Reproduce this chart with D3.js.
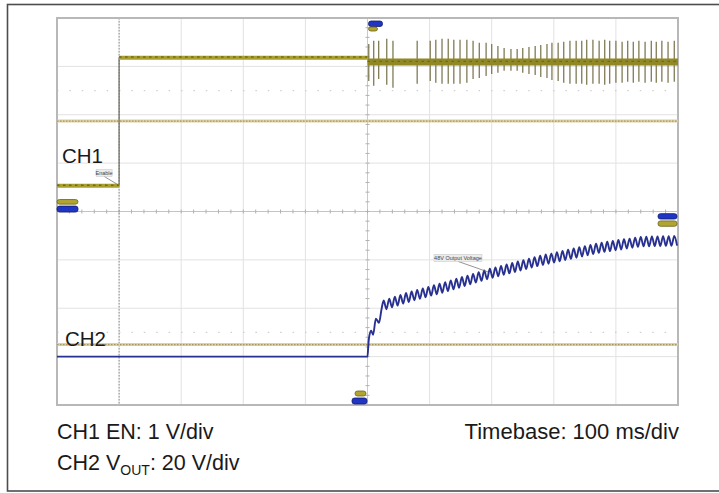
<!DOCTYPE html>
<html>
<head>
<meta charset="utf-8">
<script src="https://cdn.jsdelivr.net/npm/d3@7"></script>
<style>
  body { margin: 0; background: #fff; }
  svg { display: block; font-family: "Liberation Sans", Arial, Helvetica, sans-serif; }
</style>
</head>
<body>
<script>
// screen: 10 x 8 divisions, timebase 100 ms/div
let timeDomain = [0, 1000],
  divDomain = [-4, 4];

// CH1 EN, 1 V/div, ground marker at +0.2 div
let ch1Ground = 0.2,
  ch1VoltsPerDiv = 1,
  ch1SegStart = [0, 100, 500],
  ch1SegEnd = [100, 500, 1000],
  ch1SegLevel = [0.33, 2.98, 2.89],
  ch1Ref = 1.67;

// switching glitches on EN after the trigger
let ch1SpikeTime = [502, 510, 518, 531, 541, 580, 601, 610, 620, 630, 639, 649, 660, 670, 680, 691,
  700, 710, 720, 731, 741, 750, 760, 770, 779, 789, 797, 807, 816, 826, 836, 845, 853, 863, 873,
  882, 890, 900, 910, 919, 928, 937, 947, 957, 965, 974, 984, 994];
let ch1SpikeHi = [3.26, 3.33, 3.33, 3.37, 3.33, 3.33, 3.33, 3.35, 3.37, 3.37, 3.35, 3.35, 3.35, 3.33,
  3.29, 3.29, 3.26, 3.22, 3.18, 3.16, 3.16, 3.18, 3.20, 3.22, 3.24, 3.26, 3.29, 3.29, 3.31, 3.33,
  3.33, 3.33, 3.35, 3.35, 3.33, 3.35, 3.33, 3.33, 3.31, 3.33, 3.31, 3.33, 3.31, 3.33, 3.31, 3.33,
  3.31, 3.33];
let ch1SpikeLo = [2.50, 2.40, 2.54, 2.42, 2.36, 2.44, 2.50, 2.46, 2.44, 2.44, 2.44, 2.44, 2.46, 2.54,
  2.56, 2.60, 2.64, 2.67, 2.71, 2.71, 2.71, 2.67, 2.64, 2.62, 2.58, 2.56, 2.52, 2.50, 2.46, 2.44,
  2.44, 2.44, 2.42, 2.44, 2.44, 2.42, 2.44, 2.46, 2.46, 2.48, 2.46, 2.48, 2.46, 2.48, 2.46, 2.48,
  2.46, 2.48];

// CH2 VOUT, 20 V/div, ground at -3 div
let ch2Ground = -3,
  ch2VoltsPerDiv = 20,
  ch2Ref = 5;
let ch2HeadTime = [0, 500, 501.5, 503, 506, 509, 513.5, 518.5, 522.5];
let ch2HeadVolt = [0, 0, 5.5, 8.7, 10.7, 9.0, 15.7, 14.0, 19.5];
// ripple peaks / troughs, one every 4.5 ms from 526 ms
let ch2RippleStart = 526,
  ch2RippleStep = 4.5;
let ch2RippleVolt = [23.2, 19.6, 24.0, 20.4, 24.8, 21.1, 25.5, 21.9, 26.3, 22.6,
  26.9, 23.3, 27.6, 23.9, 28.2, 24.5, 28.8, 25.2, 29.5, 25.8,
  30.1, 26.4, 30.8, 27.1, 31.5, 27.8, 32.2, 28.5, 32.9, 29.2,
  33.5, 29.9, 34.2, 30.6, 34.9, 31.3, 35.6, 32.0, 36.3, 32.6,
  36.9, 33.2, 37.5, 33.8, 38.1, 34.4, 38.7, 35.0, 39.3, 35.6,
  39.9, 36.2, 40.5, 36.8, 41.1, 37.4, 41.7, 37.9, 42.2, 38.4,
  42.7, 38.9, 43.2, 39.4, 43.7, 39.9, 44.2, 40.4, 44.7, 40.9,
  45.2, 41.4, 45.7, 41.9, 46.2, 42.4, 46.7, 42.9, 47.1, 43.3,
  47.5, 43.6, 47.8, 44.0, 48.2, 44.3, 48.5, 44.7, 48.8, 45.0,
  49.2, 45.4, 49.5, 45.6, 49.6, 45.6, 49.7, 45.7, 49.7, 45.7,
  49.8, 45.8, 49.8, 45.8, 49.9, 45.9];

let width = 719,
  height = 493,
  plot = { left: 57, right: 678, top: 18, bottom: 405 };

let x = d3.scaleLinear().domain(timeDomain).range([plot.left, plot.right]);
let y = d3.scaleLinear().domain(divDomain).range([plot.bottom, plot.top]);
let ch1Y = (v) => y(ch1Ground + v / ch1VoltsPerDiv);
let ch2Y = (v) => y(ch2Ground + v / ch2VoltsPerDiv);

let svg = d3.select("body").append("svg")
  .attr("width", width)
  .attr("height", height);

// outer frame (right side runs off the page)
svg.append("rect")
  .attr("x", 7.5).attr("y", 4.5)
  .attr("width", 730).attr("height", 486.5)
  .attr("fill", "none")
  .attr("stroke", "#4d4d4d")
  .attr("stroke-width", 1.6);

// grid
let grid = svg.append("g");
grid.selectAll(".vg")
  .data(d3.range(100, 1000, 100))
  .enter().append("line")
  .attr("x1", (d) => x(d)).attr("x2", (d) => x(d))
  .attr("y1", plot.top).attr("y2", plot.bottom)
  .attr("stroke", (d) => (d == 500 ? "#c9c9c9" : "#e2e2e2"))
  .attr("stroke-width", 1);
grid.selectAll(".hg")
  .data(d3.range(-3, 4, 1))
  .enter().append("line")
  .attr("x1", plot.left).attr("x2", plot.right)
  .attr("y1", (d) => y(d)).attr("y2", (d) => y(d))
  .attr("stroke", (d) => (d == 0 ? "#c4c4c4" : "#e2e2e2"))
  .attr("stroke-width", 1);

// minor ticks on the centre lines
grid.selectAll(".tx")
  .data(d3.range(0, 1000.1, 20))
  .enter().append("line")
  .attr("x1", (d) => x(d)).attr("x2", (d) => x(d))
  .attr("y1", y(0) - 2).attr("y2", y(0) + 2)
  .attr("stroke", "#b0b0b0");
grid.selectAll(".ty")
  .data(d3.range(-4, 4.01, 0.2))
  .enter().append("line")
  .attr("x1", x(500) - 2).attr("x2", x(500) + 2)
  .attr("y1", (d) => y(d)).attr("y2", (d) => y(d))
  .attr("stroke", "#b0b0b0");

// faint dotted rows at +/-2.5 div
grid.selectAll(".dr")
  .data([2.5, -2.5])
  .enter().append("line")
  .attr("x1", plot.left).attr("x2", plot.right)
  .attr("y1", (d) => y(d)).attr("y2", (d) => y(d))
  .attr("stroke", "#cfcfcf")
  .attr("stroke-width", 1.2)
  .attr("stroke-dasharray", "1.5,10.9");

// time cursor at the enable edge
grid.append("line")
  .attr("x1", x(100)).attr("x2", x(100))
  .attr("y1", plot.top).attr("y2", plot.bottom)
  .attr("stroke", "#8c8c8c")
  .attr("stroke-dasharray", "1.5,1.5");

// plot border
svg.append("rect")
  .attr("x", plot.left).attr("y", plot.top)
  .attr("width", plot.right - plot.left).attr("height", plot.bottom - plot.top)
  .attr("fill", "none")
  .attr("stroke", "#b8b8b8")
  .attr("stroke-width", 2);

// reference levels (tan dotted)
let refs = [ch1Y(ch1Ref), ch2Y(ch2Ref)];
svg.selectAll(".ref")
  .data(refs)
  .enter().append("line")
  .attr("x1", plot.left).attr("x2", plot.right)
  .attr("y1", (d) => d).attr("y2", (d) => d)
  .attr("stroke", "#dcd0a4")
  .attr("stroke-width", 3);
svg.selectAll(".ref2")
  .data(refs)
  .enter().append("line")
  .attr("x1", plot.left).attr("x2", plot.right)
  .attr("y1", (d) => d).attr("y2", (d) => d)
  .attr("stroke", "#a8955c")
  .attr("stroke-width", 1.2)
  .attr("stroke-dasharray", "1.5,1.5");

// CH2 trace
let ch2Points = ch2HeadTime.map((t, i) => [t, ch2HeadVolt[i]])
  .concat(ch2RippleVolt.map((v, i) => [ch2RippleStart + i * ch2RippleStep, v]));

let ch2Line = d3.line()
  .x((d) => x(d[0]))
  .y((d) => ch2Y(d[1]))
  .curve(d3.curveMonotoneX);

svg.append("path")
  .datum(ch2Points)
  .attr("d", ch2Line)
  .attr("fill", "none")
  .attr("stroke", "#28318f")
  .attr("stroke-width", 1.9)
  .attr("stroke-linejoin", "round");

// CH1 trace: thin edge, thick level bands, glitches
svg.append("line")
  .attr("x1", x(100)).attr("x2", x(100))
  .attr("y1", ch1Y(ch1SegLevel[0])).attr("y2", ch1Y(ch1SegLevel[1]))
  .attr("stroke", "#6e6e64")
  .attr("stroke-width", 1.2);

svg.selectAll(".spike")
  .data(ch1SpikeTime)
  .enter().append("line")
  .attr("x1", (d) => x(d)).attr("x2", (d) => x(d))
  .attr("y1", (d, i) => ch1Y(ch1SpikeHi[i]))
  .attr("y2", (d, i) => ch1Y(ch1SpikeLo[i]))
  .attr("stroke", "#7f7b55")
  .attr("stroke-width", 1.3);

let segs = ch1SegStart.map((s, i) => ({ s: s, e: ch1SegEnd[i], v: ch1SegLevel[i], w: s >= 500 ? 7 : 4 }));

svg.selectAll(".band")
  .data(segs)
  .enter().append("line")
  .attr("x1", (d) => x(d.s)).attr("x2", (d) => x(d.e))
  .attr("y1", (d) => ch1Y(d.v)).attr("y2", (d) => ch1Y(d.v))
  .attr("stroke", (d) => (d.s >= 500 ? "#8f8824" : "#a89f30"))
  .attr("stroke-width", (d) => d.w);
svg.selectAll(".band2")
  .data(segs)
  .enter().append("line")
  .attr("x1", (d) => x(d.s)).attr("x2", (d) => x(d.e))
  .attr("y1", (d) => ch1Y(d.v) - 0.6).attr("y2", (d) => ch1Y(d.v) - 0.6)
  .attr("stroke", "#6f6a1a")
  .attr("stroke-width", 1.4)
  .attr("stroke-dasharray", "2.5,3.5");

// channel / trigger markers
function marker(mx, my, w, h, kind) {
  svg.append("rect")
    .attr("x", mx).attr("y", my)
    .attr("width", w).attr("height", h)
    .attr("rx", 2.5).attr("ry", 2.5)
    .attr("fill", kind == "b" ? "#1f36c4" : "#b1a532")
    .attr("stroke", kind == "b" ? "#111c6c" : "#6a6318")
    .attr("stroke-width", 0.8);
}
marker(x(0), y(0.2) - 2.3, 21, 4.6, "y");
marker(x(0), y(0.05) - 3, 21, 6, "b");
marker(x(500) + 1, y(4) + 3, 14, 5.5, "b");
marker(x(500) + 1, y(4) + 9, 9, 4, "y");
marker(x(500) - 12.5, y(-4) - 14, 11, 5, "y");
marker(x(500) - 15.5, y(-4) - 7, 15, 6, "b");
marker(x(1000) - 20, y(-0.1) - 2.7, 19, 5.4, "b");
marker(x(1000) - 20, y(-0.25) - 2.7, 19, 5.4, "y");

// small trace annotations
function note(ax, ay, dx, dy, label, w) {
  let g = svg.append("g");
  g.append("line")
    .attr("x1", ax + dx + w * 0.5).attr("y1", ay + dy + 1.5)
    .attr("x2", ax).attr("y2", ay)
    .attr("stroke", "#666").attr("stroke-width", 0.7);
  g.append("rect")
    .attr("x", ax + dx).attr("y", ay + dy - 5.5)
    .attr("width", w).attr("height", 7)
    .attr("fill", "#ececec").attr("stroke", "#c4c4c4").attr("stroke-width", 0.5);
  g.append("text")
    .attr("x", ax + dx + w / 2).attr("y", ay + dy)
    .attr("text-anchor", "middle")
    .attr("font-size", 5.5)
    .attr("fill", "#444")
    .text(label);
}
note(x(100) - 1, ch1Y(ch1SegLevel[0]) - 1, -22, -10, "Enable", 16);
note(x(694), ch2Y(34.2) - 2, -54, -12, "48V Output Voltage", 48);

// channel labels
svg.append("text").attr("x", 62).attr("y", 163)
  .attr("font-size", 20.5).attr("fill", "#1a1a1a").text("CH1");
svg.append("text").attr("x", 65).attr("y", 346)
  .attr("font-size", 20.5).attr("fill", "#1a1a1a").text("CH2");

// scale captions
svg.append("text").attr("x", 57).attr("y", 439)
  .attr("font-size", 21.5).attr("fill", "#1a1a1a").text("CH1 EN: 1 V/div");
let cap2 = svg.append("text").attr("x", 57).attr("y", 470)
  .attr("font-size", 21.5).attr("fill", "#1a1a1a");
cap2.append("tspan").text("CH2 V");
cap2.append("tspan").attr("font-size", 14).attr("dy", 5).text("OUT");
cap2.append("tspan").attr("dy", -5).text(": 20 V/div");
svg.append("text").attr("x", 679).attr("y", 439)
  .attr("text-anchor", "end")
  .attr("font-size", 22).attr("fill", "#1a1a1a").text("Timebase: 100 ms/div");
</script>
</body>
</html>
